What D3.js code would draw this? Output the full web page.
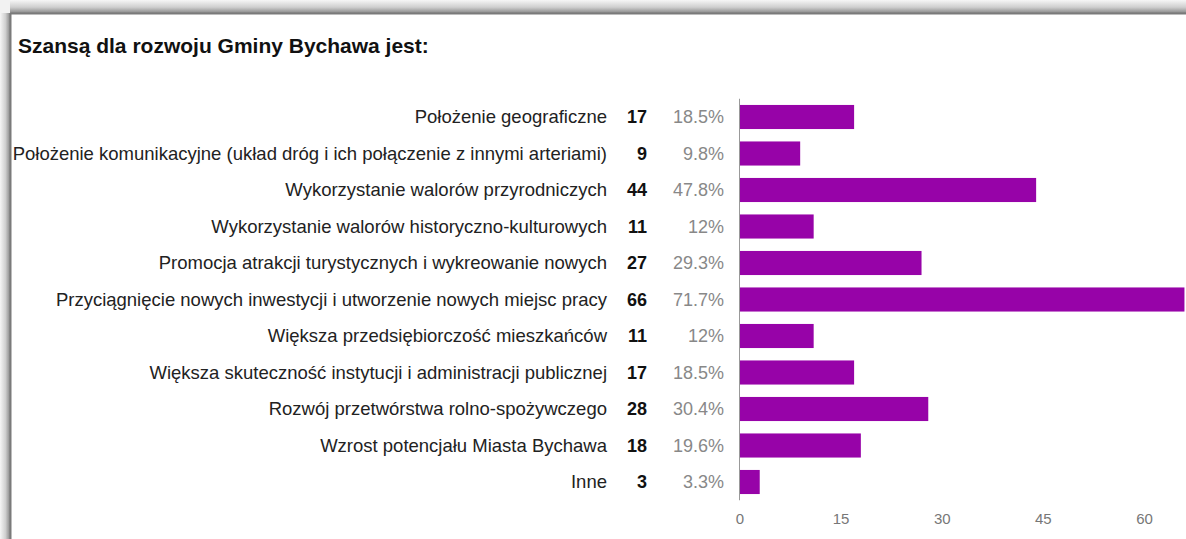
<!DOCTYPE html>
<html>
<head>
<meta charset="utf-8">
<script src="https://cdn.jsdelivr.net/npm/d3@7"></script>
<style>
  html, body { margin: 0; padding: 0; background: #fff; }
  svg { display: block; font-family: "Liberation Sans", Arial, sans-serif; }
</style>
</head>
<body>
<svg id="chart" width="1186" height="539"></svg>
<script>
// Survey answers: "Szansą dla rozwoju Gminy Bychawa jest:"
const categories = [
  "Położenie geograficzne",
  "Położenie komunikacyjne (układ dróg i ich połączenie z innymi arteriami)",
  "Wykorzystanie walorów przyrodniczych",
  "Wykorzystanie walorów historyczno-kulturowych",
  "Promocja atrakcji turystycznych i wykreowanie nowych",
  "Przyciągnięcie nowych inwestycji i utworzenie nowych miejsc pracy",
  "Większa przedsiębiorczość mieszkańców",
  "Większa skuteczność instytucji i administracji publicznej",
  "Rozwój przetwórstwa rolno-spożywczego",
  "Wzrost potencjału Miasta Bychawa",
  "Inne"
];
const counts = [17, 9, 44, 11, 27, 66, 11, 17, 28, 18, 3];
const percents = ["18.5%", "9.8%", "47.8%", "12%", "29.3%", "71.7%", "12%", "18.5%", "30.4%", "19.6%", "3.3%"];
const tickValues = [0, 15, 30, 45, 60];
const title = "Szansą dla rozwoju Gminy Bychawa jest:";

const W = 1186, H = 539;
const svg = d3.select("#chart");
const defs = svg.append("defs");

// Page panel with soft shadow on top and left edges
const gTop = defs.append("linearGradient").attr("id", "shTop")
  .attr("x1", 0).attr("y1", 0).attr("x2", 0).attr("y2", 1);
gTop.append("stop").attr("offset", "0%").attr("stop-color", "#f6f6f6");
gTop.append("stop").attr("offset", "55%").attr("stop-color", "#cfcfcf");
gTop.append("stop").attr("offset", "100%").attr("stop-color", "#8a8a8a");
const gLeft = defs.append("linearGradient").attr("id", "shLeft")
  .attr("x1", 0).attr("y1", 0).attr("x2", 1).attr("y2", 0);
gLeft.append("stop").attr("offset", "0%").attr("stop-color", "#f6f6f6");
gLeft.append("stop").attr("offset", "55%").attr("stop-color", "#cfcfcf");
gLeft.append("stop").attr("offset", "100%").attr("stop-color", "#8a8a8a");

svg.append("rect").attr("x", 0).attr("y", 0).attr("width", W).attr("height", 13).attr("fill", "url(#shTop)");
svg.append("rect").attr("x", 0).attr("y", 0).attr("width", 10).attr("height", H).attr("fill", "url(#shLeft)");
svg.append("rect").attr("x", 0).attr("y", 0).attr("width", 10).attr("height", 13).attr("fill", "#f2f2f2");
svg.append("rect").attr("x", 10).attr("y", 13).attr("width", W - 10).attr("height", H - 13)
  .attr("fill", "#fff");
svg.append("line").attr("x1", 10.5).attr("x2", W).attr("y1", 13.5).attr("y2", 13.5)
  .attr("stroke", "#7a7a7a").attr("stroke-width", 2);
svg.append("line").attr("x1", 10.5).attr("x2", 10.5).attr("y1", 13).attr("y2", H)
  .attr("stroke", "#7a7a7a").attr("stroke-width", 2);

// Title
svg.append("text")
  .attr("x", 18).attr("y", 53)
  .attr("font-size", 21).attr("font-weight", "bold").attr("fill", "#111")
  .text(title);

// Scales
const y = d3.scaleBand()
  .domain(categories)
  .range([98.75, 500.25])
  .paddingInner(0.34)
  .paddingOuter(0.17);

const x = d3.scaleLinear()
  .domain([0, 60])
  .range([739.5, 1144]);

// Bars
svg.append("g").selectAll("rect")
  .data(categories)
  .join("rect")
  .attr("x", x(0))
  .attr("y", d => y(d))
  .attr("width", (d, i) => x(counts[i]) - x(0))
  .attr("height", y.bandwidth())
  .attr("fill", "#9703a8");

// Baseline of the bars
svg.append("line")
  .attr("x1", x(0)).attr("x2", x(0))
  .attr("y1", y.range()[0]).attr("y2", y.range()[1])
  .attr("stroke", "#999").attr("stroke-width", 1);

// Row labels, counts and percentages
const rows = svg.append("g");
const cy = d => y(d) + y.bandwidth() / 2;

rows.selectAll("text.cat")
  .data(categories)
  .join("text")
  .attr("class", "cat")
  .attr("x", 607).attr("y", cy).attr("dy", "0.35em")
  .attr("text-anchor", "end")
  .attr("font-size", 18.5).attr("fill", "#222")
  .text(d => d);

rows.selectAll("text.cnt")
  .data(categories)
  .join("text")
  .attr("class", "cnt")
  .attr("x", 647).attr("y", cy).attr("dy", "0.35em")
  .attr("text-anchor", "end")
  .attr("font-size", 18).attr("font-weight", "bold").attr("fill", "#111")
  .text((d, i) => counts[i]);

rows.selectAll("text.pct")
  .data(categories)
  .join("text")
  .attr("class", "pct")
  .attr("x", 724).attr("y", cy).attr("dy", "0.35em")
  .attr("text-anchor", "end")
  .attr("font-size", 18).attr("fill", "#888")
  .text((d, i) => percents[i]);

// Horizontal value axis (labels only)
const axis = svg.append("g")
  .attr("transform", `translate(0, 513)`)
  .call(d3.axisBottom(x).tickValues(tickValues).tickSize(0).tickPadding(0));
axis.select(".domain").remove();
axis.selectAll("text")
  .attr("font-size", 15)
  .attr("font-family", "Liberation Sans, Arial, sans-serif")
  .attr("fill", "#777")
  .attr("dy", "0.71em");
</script>
</body>
</html>
